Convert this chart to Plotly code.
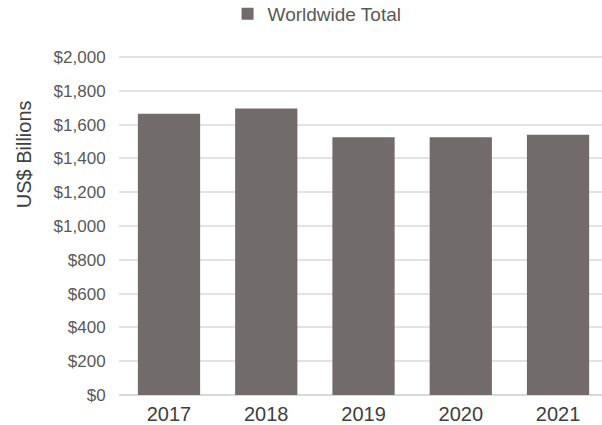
import plotly.graph_objects as go

years = ["2017", "2018", "2019", "2020", "2021"]
totals = [1665, 1695, 1525, 1525, 1540]
series_name = "Worldwide Total"
y_ticks = [0, 200, 400, 600, 800, 1000, 1200, 1400, 1600, 1800, 2000]
y_tick_labels = ["$0", "$200", "$400", "$600", "$800", "$1,000", "$1,200",
                 "$1,400", "$1,600", "$1,800", "$2,000"]

FONT = "Liberation Sans, Arial, sans-serif"
TXT = "#595959"

fig = go.Figure()
fig.add_trace(go.Bar(
    x=list(range(len(years))), y=totals, name=series_name,
    marker=dict(color="#716b6b", line=dict(width=0)),
    width=0.64, showlegend=True,
))

fig.update_layout(
    width=602, height=425,
    margin=dict(l=119, r=0, t=56, b=30, autoexpand=False),
    paper_bgcolor="white", plot_bgcolor="white",
    font=dict(family=FONT, color=TXT),
    showlegend=True,
    legend=dict(
        orientation="h", xref="container", yref="container",
        x=0.378, xanchor="left", y=(425 - 14) / 425, yanchor="middle",
        font=dict(size=19, color=TXT, family=FONT),
        itemwidth=30, bgcolor="rgba(0,0,0,0)",
    ),
    bargap=0.36,
    xaxis=dict(
        tickmode="array", tickvals=list(range(len(years))), ticktext=years,
        range=[-0.514, 4.452], showgrid=False, zeroline=False,
        showline=False, ticks="outside", ticklen=1, tickcolor="rgba(0,0,0,0)",
        tickfont=dict(size=20, color="#404040", family=FONT),
    ),
    yaxis=dict(
        range=[0, 2006], tickmode="array", tickvals=y_ticks, ticktext=y_tick_labels,
        showgrid=True, gridcolor="#e3e3e3", gridwidth=1.5,
        zeroline=True, zerolinecolor="#d9d9d9", zerolinewidth=1.5,
        ticks="outside", ticklen=9, tickcolor="rgba(0,0,0,0)",
        tickfont=dict(size=17, color=TXT, family=FONT),
    ),
)

fig.add_annotation(
    text="US$ Billions", textangle=-90, showarrow=False,
    xref="paper", yref="paper", x=(24 - 119) / 483, y=(395 - 155) / 338,
    xanchor="center", yanchor="middle",
    font=dict(size=20, color="#404040", family=FONT),
)

fig.write_html(
    "out.html",
    config={"displayModeBar": False},
    post_script="document.body.style.margin='0';document.body.style.overflow='hidden';",
)
